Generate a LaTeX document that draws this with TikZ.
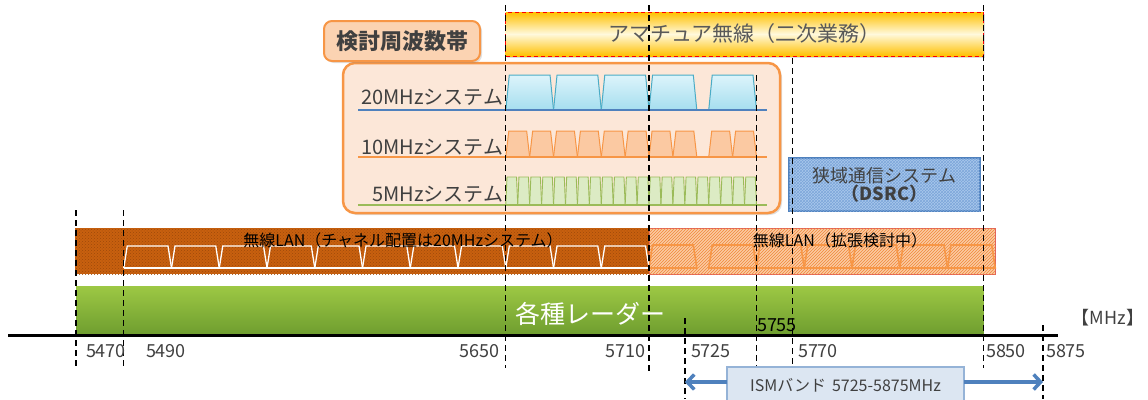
\documentclass[tikz,border=0pt]{standalone}
\usepackage{fontspec}
\setmainfont{Noto Sans CJK JP}
\usetikzlibrary{patterns,shadows,arrows.meta}
\definecolor{txt}{HTML}{404040}
\definecolor{txtA}{HTML}{595959}
\definecolor{orangeL}{HTML}{F79646}
\definecolor{peachbox}{HTML}{FCE7D8}
\definecolor{peachlbl}{HTML}{FBD3B2}
\definecolor{ctwline}{HTML}{4BACC6}
\definecolor{ctwtop}{HTML}{DDF4FB}
\definecolor{ctwbot}{HTML}{A5DEEF}
\definecolor{ctenfill}{HTML}{FBC9A2}
\definecolor{cfivefill}{HTML}{DCEBC4}
\definecolor{cfiveline}{HTML}{9BBB59}
\definecolor{blueline}{HTML}{4F81BD}
\definecolor{landark}{HTML}{C8600F}
\definecolor{landarkpat}{HTML}{9E4A0A}
\definecolor{lanextfill}{HTML}{FBCBA3}
\definecolor{lanextpat}{HTML}{F0883A}
\definecolor{lanextborder}{HTML}{E06060}
\definecolor{dsrcfill}{HTML}{A9C8EC}
\definecolor{dsrcpat}{HTML}{7DA6DA}
\definecolor{radartop}{HTML}{9DC844}
\definecolor{radarbot}{HTML}{6E9D2F}
\definecolor{amy}{HTML}{FFC000}
\definecolor{aml}{HTML}{FFF9DC}
\definecolor{ismfill}{HTML}{DCE6F2}
\definecolor{ismborder}{HTML}{95B3D7}
\newcommand\fsz[1]{\fontsize{#1}{#1}\selectfont}
\pgfmathdeclarefunction{fx}{1}{\pgfmathparse{76+(#1-5470)*2.3877}}
\begin{document}
\begin{tikzpicture}[x=1pt,y=-1pt,
  every node/.style={inner sep=0pt, outer sep=0pt},
  dline/.style={draw=black, line width=1.3pt, dash pattern=on 6pt off 4pt},
  chtw/.style={draw=ctwline, line width=1pt, top color=ctwtop, bottom color=ctwbot},
  chten/.style={draw=orangeL, line width=1pt, fill=ctenfill},
  chfive/.style={draw=cfiveline, line width=0.9pt, fill=cfivefill},
  lanch/.style={draw=white, line width=1.3pt},
  extch/.style={draw=orangeL, line width=1.6pt},
  amat/.style={draw=red, line width=1pt, dash pattern=on 4pt off 3pt,
    top color=amy, bottom color=amy, middle color=aml,
    drop shadow={opacity=0.25, shadow xshift=1.5pt, shadow yshift=-2pt}},
  sysbox/.style={draw=orangeL, line width=2.5pt, fill=peachbox, rounded corners=12pt,
    drop shadow={opacity=0.25, shadow xshift=2pt, shadow yshift=-2pt}},
  lblbox/.style={draw=orangeL, line width=2pt, fill=peachlbl, rounded corners=8pt,
    drop shadow={opacity=0.25, shadow xshift=2pt, shadow yshift=-2pt}},
  landarkbox/.style={fill=landark, postaction={pattern=crosshatch dots, pattern color=landarkpat}},
  lanextbox/.style={draw=lanextborder, line width=0.8pt, fill=lanextfill,
    postaction={pattern=north east lines, pattern color=lanextpat}},
  dsrcbox/.style={draw=blueline, line width=1.2pt, fill=dsrcfill,
    postaction={pattern=crosshatch, pattern color=dsrcpat}},
  radarbox/.style={top color=radartop, bottom color=radarbot},
  ismbox/.style={draw=ismborder, line width=1.2pt, fill=ismfill},
  ismarrow/.style={draw=blueline, line width=3.5pt, -{Straight Barb[length=7pt,width=15pt]}},
  axislbl/.style={font=\fsz{18}, text=txt},
  syslbl/.style={font=\fsz{20}, text=txt, anchor=east}
]
\useasboundingbox (0,0) rectangle (1148,399);

% amateur radio bar
\node[amat, minimum width=478pt, minimum height=44pt] (amateur) at ({(fx(5650)+fx(5850))/2},34)
  {\fsz{21}\color{txtA}アマチュア無線（二次業務）};

% frequency box and label
\node[sysbox, minimum width=437pt, minimum height=150pt] (systems) at (561.5,138) {};
\node[lblbox, minimum width=156pt, minimum height=40pt] (kentou) at (402,41)
  {\fsz{22}\bfseries\color{txt}検討周波数帯};

% 20MHz channels
\foreach \f in {5650,5670,5690,5710,5735}{
  \pgfmathsetmacro\xa{fx(\f)}
  \pgfmathsetmacro\xb{fx(\f+20)}
  \draw[chtw] (\xa,110) -- (\xa+3.5,75) -- (\xb-3.5,75) -- (\xb,110) -- cycle;
}
% 10MHz channels
\foreach \f in {5650,5660,5670,5680,5690,5700,5710,5720,5735,5745}{
  \pgfmathsetmacro\xa{fx(\f)}
  \pgfmathsetmacro\xb{fx(\f+10)}
  \draw[chten] (\xa,157) -- (\xa+3,131) -- (\xb-3,131) -- (\xb,157) -- cycle;
}
% 5MHz channels
\foreach \f in {5650,5655,...,5750}{
  \pgfmathsetmacro\xa{fx(\f)}
  \pgfmathsetmacro\xb{fx(\f+5)}
  \draw[chfive] (\xa,205) -- (\xa+1.2,177) -- (\xb-1.2,177) -- (\xb,205) -- cycle;
}
% base lines
\coordinate (bl1a) at (358,110); \coordinate (bl1b) at (767,110);
\coordinate (bl2a) at (358,157); \coordinate (bl2b) at (767,157);
\coordinate (bl3a) at (358,205); \coordinate (bl3b) at (767,205);
\draw[blueline, line width=2pt] (bl1a) -- (bl1b);
\draw[orangeL, line width=2pt] (bl2a) -- (bl2b);
\draw[cfiveline, line width=2pt] (bl3a) -- (bl3b);

\node[syslbl] (s20) at (503,97) {20MHzシステム};
\node[syslbl] (s10) at (503,147) {10MHzシステム};
\node[syslbl] (s5) at (503,194) {5MHzシステム};

% DSRC
\node[dsrcbox, minimum width=191pt, minimum height=53pt, align=center,
  font=\fsz{18}, text=txt] (dsrc) at (884.5,184.5)
  {\fontsize{18}{24}\selectfont 狭域通信システム\\\bfseries（DSRC）};

% wireless LAN (dark)
\node[landarkbox, minimum width={fx(5710)-75}, minimum height=46pt, anchor=west] (lan) at (75,251) {};
\foreach \f in {5490,5510,...,5690}{
  \pgfmathsetmacro\xa{fx(\f)}
  \pgfmathsetmacro\xb{fx(\f+20)}
  \draw[lanch] (\xa,268) -- (\xa+3.5,246) -- (\xb-3.5,246) -- (\xb,268);
}
\draw[lanch] ({fx(5490)},268) -- ({fx(5710)},268);
% wireless LAN (extension)
\node[lanextbox, minimum width={fx(5855)-fx(5710)}, minimum height=46pt, anchor=west] (lanx) at ({fx(5710)},251) {};
\foreach \f in {5710,5735,5755,5775,5795,5815,5835}{
  \pgfmathsetmacro\xa{fx(\f)}
  \pgfmathsetmacro\xb{fx(\f+20)}
  \draw[extch] (\xa,268) -- (\xa+3.5,245) -- (\xb-3.5,245) -- (\xb,268) -- cycle;
}
\node[font=\fsz{16}, text=black] (lantext) at (403,240.5) {無線LAN（チャネル配置は20MHzシステム）};
\node[font=\fsz{16}, text=black] (lanxtext) at (840,240) {無線LAN（拡張検討中）};

% radar bar
\node[radarbox, minimum width={fx(5850)-76}, minimum height=49pt, anchor=north west] (radar) at (76,286) {};
\node[font=\fsz{25}, text=white] (radartext) at (590,314) {各種レーダー};

% axis
\coordinate (axl) at (8,335);
\coordinate (axr) at (1058,335);
\draw[black, line width=3pt] (axl) -- (axr);
\node[font=\fsz{18}, text=txt] (unit) at (1108,318) {【MHz】};

% dashed frequency lines
\foreach \f/\ya/\yb in {5470/210/368, 5490/210/368, 5650/5/368, 5710/5/372,
  5725/318/399, 5755/75/368, 5770/58/368, 5850/5/368, 5875/325/399}{
  \draw[dline] ({fx(\f)},\ya) -- ({fx(\f)},\yb);
}

% axis labels
\node[axislbl, anchor=west] (l5470) at (86,351) {5470};
\node[axislbl, anchor=west] (l5490) at (146,351) {5490};
\node[axislbl, anchor=east] (l5650) at (499,351) {5650};
\node[axislbl, anchor=east] (l5710) at (645,351) {5710};
\node[axislbl, anchor=west] (l5725) at (691,351) {5725};
\node[axislbl, anchor=west] (l5770) at (798,351) {5770};
\node[axislbl, anchor=west] (l5850) at (986,351) {5850};
\node[axislbl, anchor=west] (l5875) at (1046,351) {5875};
\node[font=\fsz{18}, text=black, anchor=west] (l5755) at (757,325) {5755};

% ISM band
\node[ismbox, minimum width=237pt, minimum height=36pt] (ism) at (845.5,385)
  {\fsz{16}\color{txt}ISMバンド\hspace{6pt}5725-5875MHz};
\coordinate (i5725) at ({fx(5725)},382);
\coordinate (i5875) at ({fx(5875)},382);
\draw[ismarrow] (ism.west |- i5725) -- (i5725);
\draw[ismarrow] (ism.east |- i5875) -- (i5875);
\end{tikzpicture}
\end{document}
